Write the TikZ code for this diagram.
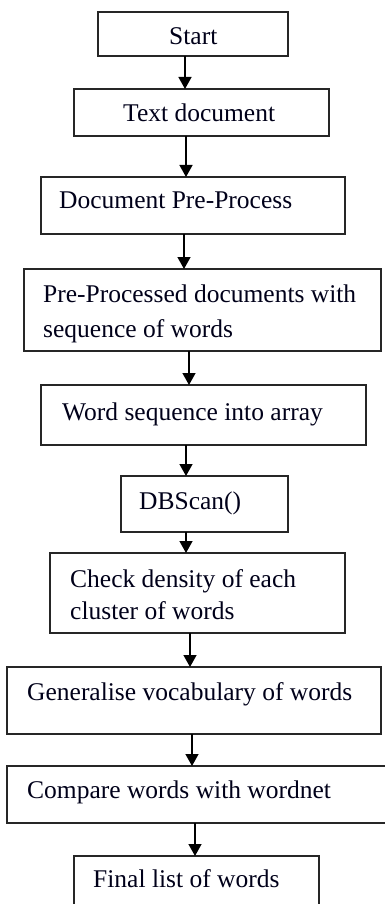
\documentclass[tikz,border=0pt]{standalone}
\usepackage{fontspec}
\setmainfont{Liberation Serif}
\usetikzlibrary{arrows.meta}
\begin{document}
\begin{tikzpicture}[x=1pt,y=-1pt,
  stepbox/.style={draw=black!85,line width=1.3pt,rectangle,inner sep=0pt,outer sep=0pt,anchor=north west},
  lbl/.style={inner sep=0pt,anchor=base west,align=left,font=\fontsize{25.5}{32}\selectfont,text=black!90!blue},
  arr/.style={draw=black,line width=1.4pt,-{Triangle[length=12pt,width=13pt]}}]
\useasboundingbox (0,0) rectangle (385,904);
% boxes
\node[stepbox,minimum width=190pt,minimum height=44pt] (b1) at (98,12) {};
\node[stepbox,minimum width=255pt,minimum height=47pt] (b2) at (74,89) {};
\node[stepbox,minimum width=304pt,minimum height=57pt] (b3) at (41,177) {};
\node[stepbox,minimum width=357pt,minimum height=82pt] (b4) at (24,269) {};
\node[stepbox,minimum width=325pt,minimum height=60pt] (b5) at (41,385) {};
\node[stepbox,minimum width=167pt,minimum height=56pt] (b6) at (121,476) {};
\node[stepbox,minimum width=295pt,minimum height=80pt] (b7) at (50,553) {};
\node[stepbox,minimum width=374pt,minimum height=67pt] (b8) at (7,667) {};
\node[stepbox,minimum width=381pt,minimum height=57pt] (b9) at (7,766) {};
\node[stepbox,minimum width=245pt,minimum height=52pt] (b10) at (74,856) {};
% texts
\node[lbl] (t1) at (169,45) {Start};
\node[lbl] (t2) at (123,122) {Text document};
\node[lbl] (t3) at (59,208) {Document Pre-Process};
\node[lbl,font=\fontsize{25.5}{35}\selectfont] (t4) at (43,337) {Pre-Processed documents with\\sequence of words};
\node[lbl] (t5) at (62,420) {Word sequence into array};
\node[lbl] (t6) at (139,509) {DBScan()};
\node[lbl] (t7) at (70,619) {Check density of each\\cluster of words};
\node[lbl] (t8) at (27,700) {Generalise vocabulary of words};
\node[lbl] (t9) at (27,798) {Compare words with wordnet};
\node[lbl] (t10) at (93,887) {Final list of words};
% connectors
\draw[arr] (b1.south -| 185,0) -- (b2.north -| 185,0);
\draw[arr] (b2.south -| 186,0) -- (b3.north -| 186,0);
\draw[arr] (b3.south -| 184,0) -- (b4.north -| 184,0);
\draw[arr] (b4.south -| 189,0) -- (b5.north -| 189,0);
\draw[arr] (b5.south -| 186,0) -- (b6.north -| 186,0);
\draw[arr] (b6.south -| 186,0) -- (b7.north -| 186,0);
\draw[arr] (b7.south -| 190,0) -- (b8.north -| 190,0);
\draw[arr] (b8.south -| 192,0) -- (b9.north -| 192,0);
\draw[arr] (b9.south -| 195,0) -- (b10.north -| 195,0);
\end{tikzpicture}
\end{document}
